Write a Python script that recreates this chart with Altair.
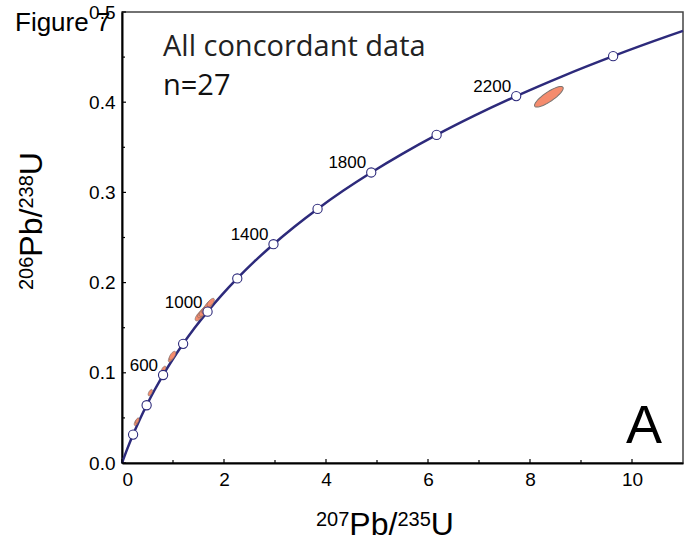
import math
import altair as alt
import pandas as pd

# ---- data -------------------------------------------------------------
# concordia curve nodes: age (Ma), 207Pb/235U, 206Pb/238U
curve_age = [0, 100, 200, 300, 400, 500, 600, 700, 800, 900, 1000, 1100, 1200,
             1300, 1400, 1500, 1600, 1700, 1800, 1900, 2000, 2100, 2200, 2300,
             2400, 2500, 2523]
curve_x = [0.0, 0.1035, 0.2177, 0.3437, 0.4828, 0.6362, 0.8056, 0.9925, 1.1987,
           1.4263, 1.6774, 1.9545, 2.2604, 2.5978, 2.9702, 3.3811, 3.8345,
           4.3349, 4.8870, 5.4964, 6.1687, 6.9107, 7.7294, 8.6329, 9.6299,
           10.7301, 11.0]
curve_y = [0.0, 0.01563, 0.03151, 0.04764, 0.06402, 0.08065, 0.09754, 0.11470,
           0.13213, 0.14983, 0.16781, 0.18606, 0.20461, 0.22344, 0.24256,
           0.26199, 0.28172, 0.30175, 0.32210, 0.34277, 0.36376, 0.38508,
           0.40674, 0.42873, 0.45106, 0.47375, 0.47904]

marker_ages = [200, 400, 600, 800, 1000, 1200, 1400, 1600, 1800, 2000, 2200, 2400]
label_ages = [600, 1000, 1400, 1800, 2200]

# small concordant analyses (ellipse centres, length in px, tilt in deg)
small_x = [0.28, 0.30, 0.555, 0.815, 0.96, 0.99, 1.52, 1.56, 1.60, 1.64, 1.70, 1.74]
small_y = [0.045, 0.047, 0.078, 0.104, 0.116, 0.119, 0.163, 0.166, 0.168, 0.171, 0.175, 0.178]
small_len = [7, 6, 7, 7, 8, 10, 12, 11, 12, 11, 12, 10]
small_tilt = [65, 65, 62, 58, 57, 57, 50, 50, 50, 50, 50, 50]

big_x = [8.37]
big_y = [0.406]
big_len = [34]
big_tilt = [34]

x_major = [0, 2, 4, 6, 8, 10]
x_minor = [1, 3, 5, 7, 9]
y_major = [0.0, 0.1, 0.2, 0.3, 0.4, 0.5]
y_minor = [0.05, 0.15, 0.25, 0.35, 0.45]

# axis title pieces (text, superscript?)
xtitle_parts = [("207", True), ("Pb/", False), ("235", True), ("U", False)]
ytitle_parts = [("206", True), ("Pb/", False), ("238", True), ("U", False)]

# ---- layout -----------------------------------------------------------
W, H = 561, 451
NAVY = "#2D2A7B"
SALMON = "#F58C6E"
FONT = "Liberation Sans"
MAIN_FS, SUP_FS = 32, 20
ADV = {"0": .556, "1": .556, "2": .556, "3": .556, "5": .556, "6": .556,
       "7": .556, "8": .556, "P": .667, "b": .556, "/": .278, "U": .722}

xs = alt.Scale(domain=[0, 11], nice=False, zero=False)
ys = alt.Scale(domain=[0, 0.5], nice=False, zero=False)


def ellipse_path(ratio, n=48):
    pts = []
    for i in range(n):
        t = 2 * math.pi * i / n
        pts.append(f"{math.cos(t):.4f},{ratio * math.sin(t):.4f}")
    return "M" + " L".join(pts) + " Z"


def piece_offsets(parts):
    out, pos = [], 0.0
    for txt, sup in parts:
        fs = SUP_FS if sup else MAIN_FS
        out.append((txt, sup, fs, pos))
        pos += sum(ADV[c] for c in txt) * fs
    return out


curve_df = pd.DataFrame({"age": curve_age, "x": curve_x, "y": curve_y})
mk_df = curve_df[curve_df["age"].isin(marker_ages)]
lb_df = curve_df[curve_df["age"].isin(label_ages)].assign(lab=lambda d: d["age"].astype(str))

small_df = pd.DataFrame({"x": small_x, "y": small_y,
                         "s": [l * l for l in small_len],
                         "a": [360 - t for t in small_tilt]})
big_df = pd.DataFrame({"x": big_x, "y": big_y,
                       "s": [l * l for l in big_len],
                       "a": [360 - t for t in big_tilt]})

xaxis = alt.Axis(values=x_major, ticks=False, grid=False, domainColor="black",
                 domainWidth=2, labelFont=FONT, labelFontSize=19, labelColor="black",
                 labelPadding=7, title=None)
yaxis = alt.Axis(values=y_major, format=".1f", ticks=False, grid=False,
                 domainColor="black", domainWidth=2, labelFont=FONT, labelFontSize=19,
                 labelColor="black", labelPadding=7, title=None)

curve = alt.Chart(curve_df).mark_line(color=NAVY, strokeWidth=2.5, interpolate="monotone").encode(
    x=alt.X("x:Q", scale=xs, axis=xaxis),
    y=alt.Y("y:Q", scale=ys, axis=yaxis),
    order="age:Q",
)

small = alt.Chart(small_df).mark_point(
    shape=ellipse_path(0.45), filled=True, fill=SALMON, stroke="#7a6a66",
    strokeWidth=0.6, opacity=1
).encode(
    x=alt.X("x:Q", scale=xs), y=alt.Y("y:Q", scale=ys),
    size=alt.Size("s:Q", scale=None), angle=alt.Angle("a:Q", scale=None),
)

big = alt.Chart(big_df).mark_point(
    shape=ellipse_path(0.28), filled=True, fill=SALMON, stroke="#7a7470",
    strokeWidth=1, opacity=1
).encode(
    x=alt.X("x:Q", scale=xs), y=alt.Y("y:Q", scale=ys),
    size=alt.Size("s:Q", scale=None), angle=alt.Angle("a:Q", scale=None),
)

markers = alt.Chart(mk_df).mark_point(
    shape="circle", filled=True, fill="white", stroke=NAVY, strokeWidth=1.1,
    size=85, opacity=1
).encode(x=alt.X("x:Q", scale=xs), y=alt.Y("y:Q", scale=ys))

labels = alt.Chart(lb_df).mark_text(
    align="right", baseline="alphabetic", dx=-5, dy=-4, font=FONT, fontSize=17,
    color="black"
).encode(x=alt.X("x:Q", scale=xs), y=alt.Y("y:Q", scale=ys), text="lab:N")

xmaj = alt.Chart(pd.DataFrame({"v": x_major})).mark_rule(color="black", strokeWidth=1.2).encode(
    x=alt.X("v:Q", scale=xs), y=alt.value(H), y2=alt.value(H - 4))
xmin = alt.Chart(pd.DataFrame({"v": x_minor})).mark_rule(color="black", strokeWidth=1.2).encode(
    x=alt.X("v:Q", scale=xs), y=alt.value(H), y2=alt.value(H - 3))
ymaj = alt.Chart(pd.DataFrame({"v": y_major})).mark_rule(color="black", strokeWidth=1.2).encode(
    y=alt.Y("v:Q", scale=ys), x=alt.value(0), x2=alt.value(4))
ymin = alt.Chart(pd.DataFrame({"v": y_minor})).mark_rule(color="black", strokeWidth=1.2).encode(
    y=alt.Y("v:Q", scale=ys), x=alt.value(0), x2=alt.value(3))


def text_layer(txt, x, y, font, fs, color="black", angle=0, align="left"):
    kw = dict(align=align, baseline="alphabetic", font=font, fontSize=fs, color=color)
    if angle:
        kw["angle"] = angle
    return alt.Chart(pd.DataFrame({"t": [txt]})).mark_text(**kw).encode(
        x=alt.value(x), y=alt.value(y), text="t:N")


# x axis title, built from pieces
XT_LEFT, XT_BASE = 194, 523
xtitle = [text_layer(t, XT_LEFT + off, XT_BASE - (9 if sup else 0), FONT, fs)
          for t, sup, fs, off in piece_offsets(xtitle_parts)]
# y axis title, rotated, reading upwards
YT_BASE, YT_START = -80, 278
ytitle = [text_layer(t, YT_BASE - (9 if sup else 0), YT_START - off, FONT, fs, angle=270)
          for t, sup, fs, off in piece_offsets(ytitle_parts)]

fig = text_layer("Figure 7", -107, 19, FONT, 26)
title1 = text_layer("All concordant data", 41, 44, "Open Sans", 29, color="#222")
title2 = text_layer("n=27", 41, 83, "Open Sans", 29, color="#111")
panel = text_layer("A", 522, 431, FONT, 54, align="center")

chart = alt.layer(
    curve, small, big, markers, labels, xmaj, xmin, ymaj, ymin,
    fig, title1, title2, panel, *xtitle, *ytitle
).properties(
    width=W, height=H,
    autosize=alt.AutoSizeParams(type="none"),
    padding={"left": 122, "top": 12, "right": 2, "bottom": 80},
    background="white",
).configure_view(stroke="#444", strokeWidth=1.5)

chart.save("out.html", embed_options={"renderer": "svg", "actions": False})
